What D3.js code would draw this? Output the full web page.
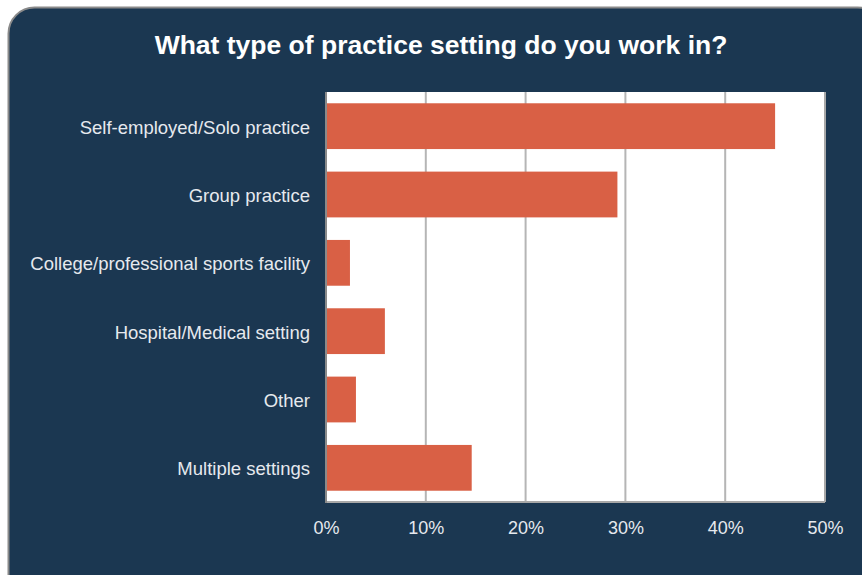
<!DOCTYPE html>
<html>
<head>
<meta charset="utf-8">
<script src="https://cdn.jsdelivr.net/npm/d3@7"></script>
<style>
  html, body { margin: 0; padding: 0; background: #ffffff; }
  svg { display: block; }
</style>
</head>
<body>
<svg id="chart" width="862" height="575"></svg>
<script>
// Survey responses: share of respondents by practice setting
const categories = [
  "Self-employed/Solo practice",
  "Group practice",
  "College/professional sports facility",
  "Hospital/Medical setting",
  "Other",
  "Multiple settings"
];
const shares = [45.0, 29.2, 2.4, 5.9, 3.0, 14.6];
const tickValues = [0, 10, 20, 30, 40, 50];
const titleText = "What type of practice setting do you work in?";

const data = categories.map((c, i) => ({ category: c, value: shares[i] }));

const svg = d3.select("#chart");
const W = 862, H = 575;
const margin = { top: 92, right: 37, bottom: 73, left: 326 };
const innerW = W - margin.left - margin.right;
const innerH = H - margin.top - margin.bottom;

const font = "'Liberation Sans', Arial, Helvetica, sans-serif";

// Rounded navy card behind the chart
svg.append("rect")
  .attr("x", 8.5).attr("y", 7.5)
  .attr("width", 875).attr("height", 600)
  .attr("rx", 26).attr("ry", 26)
  .attr("fill", "#1b3751")
  .attr("stroke", "#8a8a8a")
  .attr("stroke-width", 2);

// Title
svg.append("text")
  .attr("x", 441).attr("y", 54)
  .attr("text-anchor", "middle")
  .attr("fill", "#ffffff")
  .attr("font-family", font)
  .attr("font-size", 26.5)
  .attr("font-weight", "bold")
  .text(titleText);

const x = d3.scaleLinear().domain([0, 50]).range([0, innerW]);
const y = d3.scaleBand()
  .domain(categories)
  .range([0, innerH])
  .paddingInner(0.33)
  .paddingOuter(0.165);

const g = svg.append("g").attr("transform", `translate(${margin.left},${margin.top})`);

// White plot area
g.append("rect")
  .attr("x", 0).attr("y", 0)
  .attr("width", innerW).attr("height", innerH)
  .attr("fill", "#ffffff");

// Vertical gridlines
g.append("g")
  .selectAll("line")
  .data(tickValues.slice(1))
  .join("line")
  .attr("x1", d => x(d)).attr("x2", d => x(d))
  .attr("y1", 0).attr("y2", innerH)
  .attr("stroke", "#b5b5b5")
  .attr("stroke-width", 2);

// Bars
g.append("g")
  .selectAll("rect")
  .data(data)
  .join("rect")
  .attr("x", x(0) + 1)
  .attr("y", d => y(d.category))
  .attr("width", d => x(d.value) - x(0) - 1)
  .attr("height", y.bandwidth())
  .attr("fill", "#d96045");

// Plot frame (bottom and right borders, left axis line)
g.append("line")
  .attr("x1", 0).attr("x2", innerW)
  .attr("y1", innerH).attr("y2", innerH)
  .attr("stroke", "#a8a8a8").attr("stroke-width", 2);
g.append("line")
  .attr("x1", innerW).attr("x2", innerW)
  .attr("y1", 0).attr("y2", innerH)
  .attr("stroke", "#a8a8a8").attr("stroke-width", 2);
g.append("line")
  .attr("x1", 0).attr("x2", 0)
  .attr("y1", 0).attr("y2", innerH + 1)
  .attr("stroke", "#8a8a8a").attr("stroke-width", 2);

// X axis labels
const xAxis = d3.axisBottom(x)
  .tickValues(tickValues)
  .tickFormat(d => d + "%")
  .tickSize(0)
  .tickPadding(19);
const xg = g.append("g")
  .attr("transform", `translate(0,${innerH})`)
  .call(xAxis);
xg.select(".domain").remove();
xg.selectAll("text")
  .attr("fill", "#e6e9ee")
  .attr("font-family", font)
  .attr("font-size", 18);

// Y axis category labels
const yAxis = d3.axisLeft(y).tickSize(0).tickPadding(16);
const yg = g.append("g").call(yAxis);
yg.select(".domain").remove();
yg.selectAll("text")
  .attr("dy", "0.4em")
  .attr("fill", "#e6e9ee")
  .attr("font-family", font)
  .attr("font-size", 18.5);
</script>
</body>
</html>
